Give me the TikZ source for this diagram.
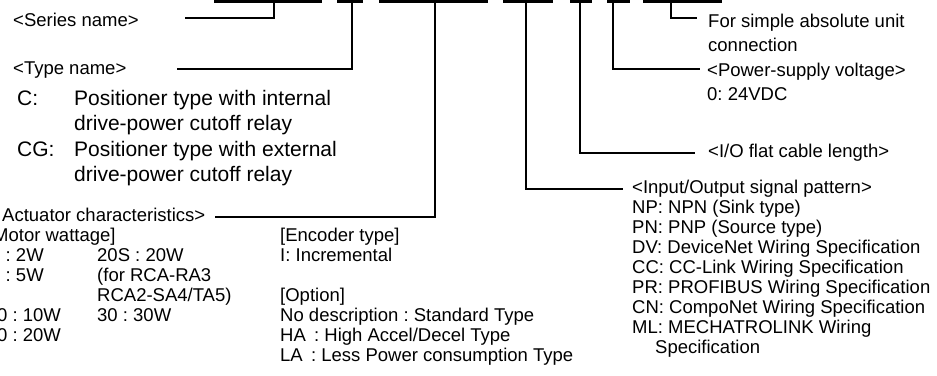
\documentclass[tikz,border=0pt]{standalone}
\usepackage{fontspec}
\setmainfont{Liberation Sans}
\frenchspacing
\begin{document}
\begin{tikzpicture}[x=1pt,y=-1pt,
  sm/.style={anchor=base west,inner sep=0pt,font=\fontsize{18.5}{20}\selectfont\frenchspacing},
  lg/.style={anchor=base west,inner sep=0pt,font=\fontsize{21}{26}\selectfont\frenchspacing},
  codebar/.style={fill=black},
  lead/.style={line width=1.4pt}]
\useasboundingbox (0,0) rectangle (937,375);

% code bars along the top
\fill[codebar] (214,0) rectangle (322,3.2);
\fill[codebar] (337,0) rectangle (363,3.2);
\fill[codebar] (379,0) rectangle (488,3.2);
\fill[codebar] (503,0) rectangle (553,3.2);
\fill[codebar] (570,0) rectangle (592,3.2);
\fill[codebar] (607,0) rectangle (630,3.2);
\fill[codebar] (643,0) rectangle (722,3.2);

% leader coordinates
\coordinate (s0) at (274,2);   \coordinate (s1) at (185,18);
\coordinate (t0) at (352,2);   \coordinate (t1) at (177,69);
\coordinate (a0) at (435,2);   \coordinate (a1) at (215,217);
\coordinate (i0) at (526,2);   \coordinate (i1) at (623,189);
\coordinate (f0) at (580,2);   \coordinate (f1) at (695,153);
\coordinate (p0) at (613,2);   \coordinate (p1) at (700,69);
\coordinate (u0) at (671,2);   \coordinate (u1) at (697,18);

\draw[lead] (s0) |- (s1);
\draw[lead] (t0) |- (t1);
\draw[lead] (a0) |- (a1);
\draw[lead] (i0) |- (i1);
\draw[lead] (f0) |- (f1);
\draw[lead] (p0) |- (p1);
\draw[lead] (u0) |- (u1);

% left texts
\node[sm] (series) at (13,26) {<Series name>};
\node[sm] (type) at (13,74) {<Type name>};
\node[lg] (c) at (17,105) {C:};
\node[lg] (c1) at (74,105) {Positioner type with internal};
\node[lg] (c2) at (74,130.5) {drive-power cutoff relay};
\node[lg] (cg) at (17,156) {CG:};
\node[lg] (cg1) at (74,156) {Positioner type with external};
\node[lg] (cg2) at (74,181.5) {drive-power cutoff relay};

\node[sm] (act) at (2,221) {Actuator characteristics>};
\node[sm] (mw) at (-7,241) {Motor wattage]};
\node[sm] (w1) at (5.5,261) {: 2W};
\node[sm] (w2) at (5.5,281) {: 5W};
\node[sm] (w3) at (-3,321) {0 : 10W};
\node[sm] (w4) at (-3,341) {0 : 20W};
\node[sm] (w5) at (97,261) {20S : 20W};
\node[sm] (w6) at (97,281) {(for RCA-RA3};
\node[sm] (w7) at (97,301) {RCA2-SA4/TA5)};
\node[sm] (w8) at (97,321) {30 : 30W};

\node[sm] (enc) at (280,241) {[Encoder type]};
\node[sm] (enc1) at (280,261) {I: Incremental};
\node[sm] (opt) at (280,301) {[Option]};
\node[sm] (opt1) at (280,321) {No description : Standard Type};
\node[sm] (opt2) at (280,341) {HA\ \,: High Accel/Decel Type};
\node[sm] (opt3) at (280,361) {LA\ \,: Less Power consumption Type};

% right texts
\node[sm] (abs1) at (708,27.5) {For simple absolute unit};
\node[sm] (abs2) at (708,51.5) {connection};
\node[sm] (pw1) at (707,76) {<Power-supply voltage>};
\node[sm] (pw2) at (707,100) {0: 24VDC};
\node[sm] (flat) at (708,157) {<I/O flat cable length>};
\node[sm] (io) at (632,193) {<Input/Output signal pattern>};
\node[sm] (io1) at (632,213) {NP: NPN (Sink type)};
\node[sm] (io2) at (632,233) {PN: PNP (Source type)};
\node[sm] (io3) at (632,253) {DV: DeviceNet Wiring Specification};
\node[sm] (io4) at (632,273) {CC: CC-Link Wiring Specification};
\node[sm] (io5) at (632,293) {PR: PROFIBUS Wiring Specification};
\node[sm] (io6) at (632,313) {CN: CompoNet Wiring Specification};
\node[sm] (io7) at (632,333) {ML: MECHATROLINK Wiring};
\node[sm] (io8) at (655,353) {Specification};
\end{tikzpicture}
\end{document}
